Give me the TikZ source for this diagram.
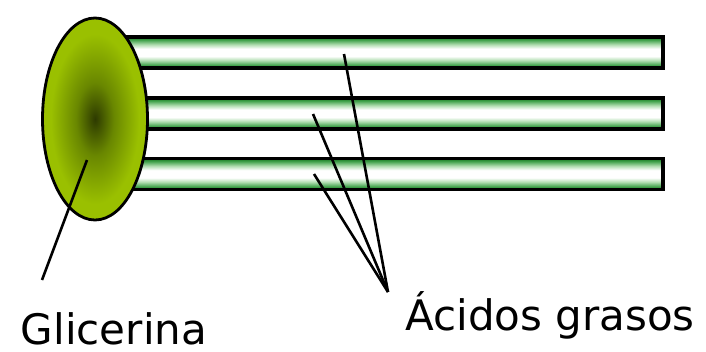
\documentclass[tikz,border=0pt]{standalone}
\usepackage{fontspec}
\setmainfont{DejaVu Sans}
\usetikzlibrary{shapes.geometric}
\definecolor{bargreen}{RGB}{20,120,30}
\definecolor{barmid}{RGB}{70,165,80}
\definecolor{barpale}{RGB}{175,220,175}
\definecolor{glydark}{RGB}{45,58,0}
\definecolor{glymid}{RGB}{105,135,0}
\definecolor{glylight}{RGB}{154,192,0}
\pgfdeclareverticalshading{acidbar}{100bp}{color(0bp)=(bargreen); color(25bp)=(bargreen); color(30bp)=(barmid); color(37bp)=(barpale); color(44bp)=(white); color(56bp)=(white); color(63bp)=(barpale); color(70bp)=(barmid); color(75bp)=(bargreen); color(100bp)=(bargreen)}
\pgfdeclareradialshading{glyspot}{\pgfpoint{0bp}{0bp}}{color(0bp)=(glydark); color(9bp)=(glymid); color(21bp)=(glylight); color(25bp)=(glylight); color(50bp)=(glylight)}
\begin{document}
\begin{tikzpicture}
[x=1pt,y=-1pt,
 fattychain/.style={draw,line width=3.2pt,shade,shading=acidbar,minimum width=553pt,minimum height=31pt,inner sep=0pt},
 glycerol/.style={ellipse,draw,line width=2.8pt,shade,shading=glyspot,minimum width=105pt,minimum height=202pt,inner sep=0pt},
 tagtext/.style={anchor=base,inner sep=0pt,font=\fontsize{42}{48}\selectfont},
 pointer/.style={line width=2.6pt}]
\useasboundingbox (0,0) rectangle (706,351);
\node[fattychain] (acid1) at (386.5,52.5) {};
\node[fattychain] (acid2) at (386.5,113.5) {};
\node[fattychain] (acid3) at (386.5,174) {};
\node[glycerol] (glyc) at (95,119) {};
\node[tagtext] (glyc label) at (114,344) {Glicerina};
\node[tagtext] (acid label) at (550,330) {Ácidos grasos};
\coordinate (glyc tip) at (87,160);
\coordinate (glyc foot) at (42,280);
\coordinate (acid foot) at (388,292);
\coordinate (acid tip1) at (344,54);
\coordinate (acid tip2) at (313,114);
\coordinate (acid tip3) at (314,174);
\draw[pointer] (glyc tip) -- (glyc foot);
\foreach \i in {1,2,3}
	\draw[pointer] (acid tip\i) -- (acid foot);
\end{tikzpicture}
\end{document}
